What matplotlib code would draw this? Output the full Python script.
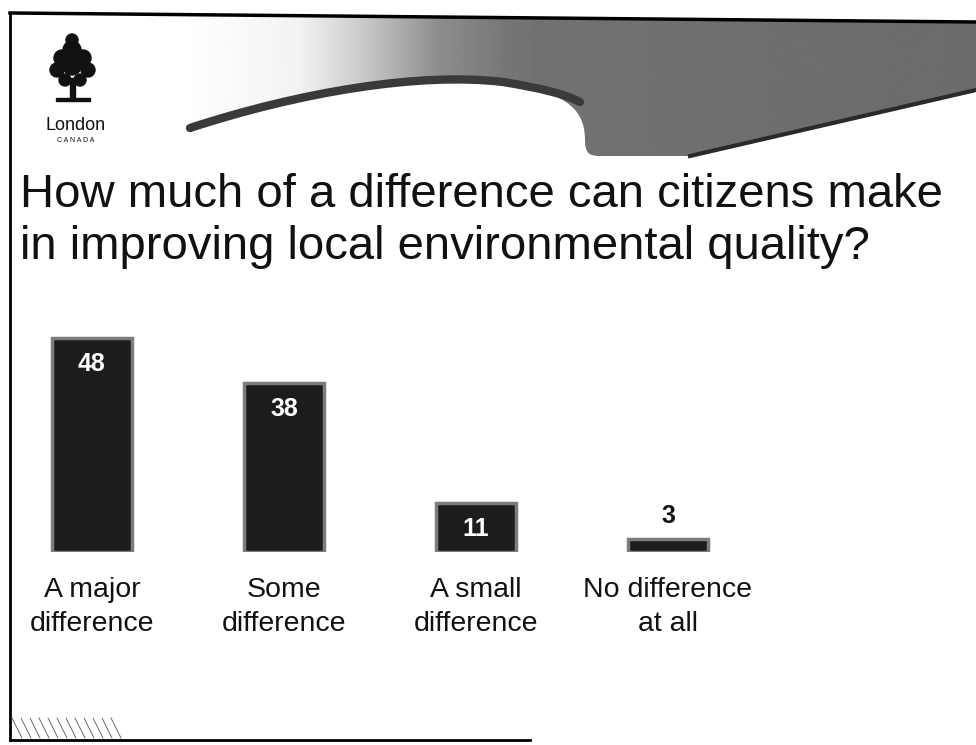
import matplotlib
matplotlib.use('Agg')
import matplotlib.pyplot as plt
import numpy as np
from matplotlib.path import Path
from matplotlib.patches import PathPatch, Circle, Rectangle
from matplotlib.lines import Line2D

# data
categories = ['A major\ndifference', 'Some\ndifference', 'A small\ndifference', 'No difference\nat all']
values = [48, 38, 11, 3]
title_lines = ['How much of a difference can citizens make',
               'in improving local environmental quality?']

W, H = 976, 745
fig = plt.figure(figsize=(W / 100, H / 100), dpi=100)
fig.patch.set_facecolor('white')

def fx(px):
    return px / W

def fy(py):
    return 1 - py / H

regular = ['Liberation Sans', 'DejaVu Sans']

# background layer for the slide decoration
bg = fig.add_axes([0, 0, 1, 1])
bg.set_xlim(0, W)
bg.set_ylim(H, 0)
bg.axis('off')

# grey swoosh at the top, faded to white on its left end
swoosh = Path([(190, 128), (300, 92), (420, 72), (503, 82),
               (560, 92), (585, 105), (585, 140),
               (585, 154), (590, 156), (600, 156),
               (690, 156), (976, 90), (976, 22), (190, 14), (190, 128)],
              [Path.MOVETO, Path.CURVE4, Path.CURVE4, Path.CURVE4,
               Path.CURVE4, Path.CURVE4, Path.CURVE4,
               Path.CURVE4, Path.CURVE4, Path.CURVE4,
               Path.LINETO, Path.LINETO, Path.LINETO, Path.LINETO, Path.CLOSEPOLY])
clip = PathPatch(swoosh, facecolor='none', edgecolor='none', transform=bg.transData)
bg.add_patch(clip)
gx = np.linspace(180, 976, 400)
shade = np.interp(gx, [180, 300, 360, 440, 520, 976], [1.0, 0.95, 0.8, 0.55, 0.45, 0.42])
img = bg.imshow(shade[np.newaxis, :], cmap='gray', vmin=0, vmax=1, aspect='auto',
                extent=[180, 976, 160, 10], interpolation='bilinear')
img.set_clip_path(clip)
band = Path([(190, 128), (300, 92), (420, 72), (503, 82),
             (540, 88), (565, 94), (580, 102)],
            [Path.MOVETO, Path.CURVE4, Path.CURVE4, Path.CURVE4,
             Path.CURVE4, Path.CURVE4, Path.CURVE4])
bg.add_patch(PathPatch(band, facecolor='none', edgecolor='#3a3a3a', lw=6, capstyle='round'))
bg.add_line(Line2D([690, 976], [156, 90], color='#2a2a2a', lw=3))

# slide frame
bg.add_line(Line2D([10, 10], [13, 740], color='black', lw=2))
bg.add_line(Line2D([10, W], [13, 22], color='black', lw=2.5))
bg.add_line(Line2D([10, 530], [740, 740], color='black', lw=2))
for i in range(12):
    bg.add_line(Line2D([12 + i * 9, 22 + i * 9], [718, 738], color='#555555', lw=0.6))

# logo
bg.add_patch(Rectangle((70, 78), 5, 22, color='#111111'))
bg.add_patch(Rectangle((56, 98), 34, 3, color='#111111'))
for cx, cy, r in [(72, 50, 9), (62, 58, 8), (83, 58, 8), (57, 70, 7), (88, 70, 7),
                  (72, 66, 9), (65, 80, 6), (80, 80, 6), (72, 40, 6)]:
    bg.add_patch(Circle((cx, cy), r, color='#111111'))
fig.text(fx(76), fy(125), 'London', ha='center', va='center', fontsize=13,
         family=regular, color='#111111')
fig.text(fx(76), fy(140), 'C A N A D A', ha='center', va='center', fontsize=5,
         family=regular, color='#111111')

# title
fig.text(fx(20), fy(195), title_lines[0], ha='left', va='center', fontsize=34,
         family=regular, color='#111111')
fig.text(fx(20), fy(247), title_lines[1], ha='left', va='center', fontsize=34,
         family=regular, color='#111111')

# bar chart axes
base_px = 552
px_per_unit = 4.45
spacing = 192
first_center = 92
ax = fig.add_axes([0, (H - base_px) / H, 1, base_px / H])
ax.set_facecolor('none')
ax.set_xlim(-first_center / spacing, (W - first_center) / spacing)
ax.set_ylim(0, base_px / px_per_unit)
x = np.arange(len(values))
ax.bar(x, values, width=80 / spacing, color='#1c1c1c', edgecolor='#7d7d7d', linewidth=2.5)

for xi, v in zip(x, values):
    if v > 8:
        ax.text(xi, v - 5.8, str(v), ha='center', va='center', color='white',
                fontsize=18, fontweight='bold', family=regular)
    else:
        ax.text(xi, v + 5.0, str(v), ha='center', va='center', color='#111111',
                fontsize=18, fontweight='bold', family=regular)

ax.set_xticks(x)
ax.set_xticklabels(categories, fontsize=20.5, family=regular, color='#111111')
for lab in ax.get_xticklabels():
    lab.set_linespacing(1.41)
ax.tick_params(axis='x', length=0, pad=18)
ax.tick_params(axis='y', left=False, labelleft=False)
for s in ax.spines.values():
    s.set_visible(False)

fig.savefig('out.png', dpi=100, facecolor='white')
